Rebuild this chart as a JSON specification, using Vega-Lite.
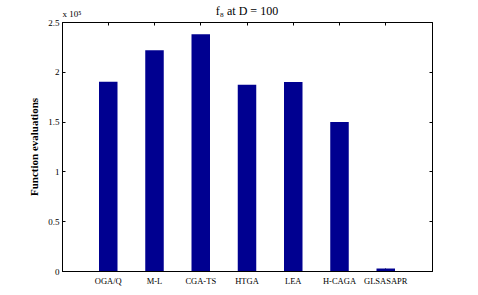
{
  "$schema": "https://vega.github.io/schema/vega-lite/v6.json",
  "width": 370,
  "height": 249,
  "autosize": "none",
  "padding": {"left": 62, "top": 22, "right": 46, "bottom": 24},
  "background": "white",
  "config": {
    "view": {"stroke": "black", "strokeWidth": 1},
    "font": "Liberation Serif",
    "axis": {
      "grid": false,
      "domainColor": "black",
      "tickColor": "black",
      "labelColor": "black",
      "titleColor": "black",
      "labelFont": "Liberation Serif",
      "titleFont": "Liberation Serif",
      "labelFontSize": 9,
      "tickSize": -3
    }
  },
  "title": {
    "text": "f₈ at D = 100",
    "font": "Liberation Serif",
    "fontSize": 12,
    "fontWeight": "normal",
    "color": "black",
    "anchor": "middle",
    "offset": -8
  },
  "data": {
    "values": [
      {"algorithm": "OGA/Q", "evaluations": 190100},
      {"algorithm": "M-L", "evaluations": 221600},
      {"algorithm": "CGA-TS", "evaluations": 237600},
      {"algorithm": "HTGA", "evaluations": 187000},
      {"algorithm": "LEA", "evaluations": 189800},
      {"algorithm": "H-CAGA", "evaluations": 149600},
      {"algorithm": "GLSASAPR", "evaluations": 2500}
    ]
  },
  "layer": [
    {
      "mark": {"type": "bar", "color": "#000090"},
      "encoding": {
        "x": {
          "field": "algorithm",
          "type": "nominal",
          "sort": null,
          "scale": {"paddingInner": 0.6, "paddingOuter": 0.8},
          "axis": {"orient": "bottom", "title": null, "labelAngle": 0, "labelPadding": 8, "labelFontSize": 8.5}
        },
        "y": {
          "field": "evaluations",
          "type": "quantitative",
          "scale": {"domain": [0, 250000], "nice": false},
          "axis": {
            "orient": "left",
            "title": "Function evaluations",
            "titleFontSize": 11,
            "titleFontWeight": "bold",
            "titlePadding": 8,
            "values": [0, 50000, 100000, 150000, 200000, 250000],
            "labelExpr": "datum.value / 100000",
            "labelPadding": 6
          }
        }
      }
    },
    {
      "mark": {"type": "bar", "opacity": 0},
      "encoding": {
        "x": {
          "field": "algorithm",
          "type": "nominal",
          "sort": null,
          "axis": {
            "orient": "top",
            "labels": false,
            "title": "x 10⁵",
            "titleFontSize": 9,
            "titleFontWeight": "normal",
            "titleAnchor": "start",
            "titleAlign": "left",
            "titlePadding": 3
          }
        },
        "y": {
          "field": "evaluations",
          "type": "quantitative",
          "axis": {
            "orient": "right",
            "labels": false,
            "title": null,
            "values": [0, 50000, 100000, 150000, 200000, 250000]
          }
        }
      }
    }
  ],
  "resolve": {"axis": {"x": "independent", "y": "independent"}}
}
